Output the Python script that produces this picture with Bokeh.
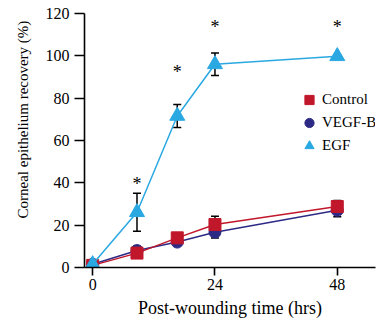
import math
from bokeh.plotting import figure
from bokeh.models import (ColumnDataSource, Whisker, TeeHead, Legend, LegendItem,
                          Title, FixedTicker, Range1d)
from bokeh.core.properties import value
from bokeh.embed import file_html
from bokeh.resources import INLINE

# ---- data ----
hours = [0, 8.7, 16.6, 24, 48]
control = [1.0, 6.8, 14.0, 20.3, 28.8]
control_err = [0.5, 1.5, 1.5, 3.9, 2.9]
vegf_b = [1.5, 8.0, 12.0, 16.7, 27.0]
vegf_b_err = [0.5, 2.0, 1.5, 2.8, 3.0]
egf = [1.5, 26.1, 71.6, 96.0, 99.8]
egf_err = [0.5, 9.0, 5.4, 5.3, 0.5]
star_hours = [8.7, 16.6, 24, 48]
star_y = [39.5, 92.3, 113.5, 113.5]
x_ticks = [0, 24, 48]
y_ticks = [0, 20, 40, 60, 80, 100, 120]

RED = "#C1172B"
NAVY = "#2D2A86"
BLUE = "#2AA8E2"
FONT = "Liberation Serif"

p = figure(width=378, height=327, output_backend="svg", toolbar_location=None,
           x_range=Range1d(-1.6, 55.5), y_range=Range1d(0, 120),
           min_border_left=84, min_border_right=3, min_border_top=13, min_border_bottom=60)
p.outline_line_color = None
p.xgrid.visible = False
p.ygrid.visible = False
p.background_fill_color = "white"
p.border_fill_color = "white"

p.axis.axis_line_width = 1.6
p.axis.axis_line_color = "black"
p.axis.major_tick_line_width = 1.6
p.axis.major_tick_line_color = "black"
p.axis.minor_tick_line_color = None
p.axis.major_tick_in = 0
p.axis.major_label_text_font = FONT
p.axis.major_label_text_font_size = "16px"
p.axis.major_label_text_color = "black"

p.xaxis.ticker = FixedTicker(ticks=x_ticks)
p.yaxis.ticker = FixedTicker(ticks=y_ticks)
p.xaxis.major_tick_out = 8
p.yaxis.major_tick_out = 10
p.xaxis.major_label_standoff = 3
p.yaxis.major_label_standoff = 5
p.xaxis.axis_label = "Post-wounding time (hrs)"
p.xaxis.axis_label_text_font = FONT
p.xaxis.axis_label_text_font_size = "18px"
p.xaxis.axis_label_text_font_style = "normal"
p.xaxis.axis_label_text_color = "black"
p.xaxis.axis_label_standoff = 5

series = [
    ("VEGF-B", vegf_b, vegf_b_err, NAVY, "circle", 12),
    ("Control", control, control_err, RED, "square", 12),
    ("EGF", egf, egf_err, BLUE, "triangle", 15),
]

marker_renderers = {}
for name, vals, errs, color, marker, size in series:
    src = ColumnDataSource(dict(
        x=hours, y=vals,
        lo=[v - e for v, e in zip(vals, errs)],
        hi=[v + e for v, e in zip(vals, errs)]))
    w = Whisker(source=src, base="x", lower="lo", upper="hi",
                line_color="black", line_width=1.5,
                upper_head=TeeHead(size=8, line_width=1.5, line_color="black"),
                lower_head=TeeHead(size=8, line_width=1.5, line_color="black"))
    p.add_layout(w)
for name, vals, errs, color, marker, size in series:
    src = ColumnDataSource(dict(x=hours, y=vals))
    p.line("x", "y", source=src, line_color=color, line_width=1.5)
    r = p.scatter("x", "y", source=src, marker=marker, size=size,
                  fill_color=color, line_color=color)
    marker_renderers[name] = r

star_src = ColumnDataSource(dict(x=star_hours, y=star_y, t=["*"] * len(star_hours)))
p.text("x", "y", text="t", source=star_src, text_font=value(FONT),
       text_font_size="18px", text_align="center", text_baseline="middle",
       text_color="black")

legend = Legend(items=[LegendItem(label="Control", renderers=[marker_renderers["Control"]]),
                       LegendItem(label="VEGF-B", renderers=[marker_renderers["VEGF-B"]]),
                       LegendItem(label="EGF", renderers=[marker_renderers["EGF"]])],
                location=(212, 110), orientation="vertical",
                glyph_width=26, glyph_height=23, label_height=23, spacing=0,
                padding=0, margin=0, label_standoff=0,
                border_line_color=None, background_fill_alpha=0,
                label_text_font=FONT, label_text_font_size="15px", label_text_color="black")
p.add_layout(legend, "center")

ytitle = Title(text="Corneal epithelium recovery (%)", align="left", offset=49,
               vertical_align="top",
               text_font=FONT, text_font_size="15px", text_font_style="normal",
               text_color="black", standoff=20)
p.add_layout(ytitle, "left")

open("out.html", "w").write(file_html(p, INLINE))
